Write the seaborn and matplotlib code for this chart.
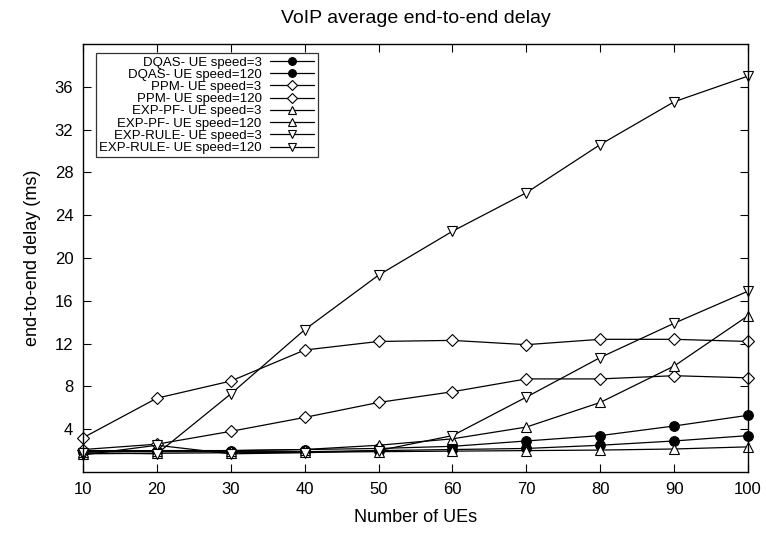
import matplotlib
matplotlib.use("Agg")
import matplotlib.pyplot as plt
import seaborn as sns

sns.set_theme(style="ticks")
plt.rcParams["font.family"] = ["Liberation Sans", "DejaVu Sans"]
plt.rcParams["text.color"] = "black"
plt.rcParams["axes.labelcolor"] = "black"
plt.rcParams["xtick.color"] = "black"
plt.rcParams["ytick.color"] = "black"

# numero di UE sull'asse x
ues = [10, 20, 30, 40, 50, 60, 70, 80, 90, 100]

# ritardi (ms)
dqas_3 = [1.9, 1.9, 1.9, 1.9, 2.0, 2.1, 2.2, 2.5, 2.9, 3.4]
dqas_120 = [2.0, 2.0, 2.0, 2.1, 2.2, 2.4, 2.9, 3.4, 4.3, 5.3]
ppm_3 = [2.1, 2.6, 3.8, 5.1, 6.5, 7.5, 8.7, 8.7, 9.0, 8.8]
ppm_120 = [3.2, 6.9, 8.5, 11.4, 12.2, 12.3, 11.9, 12.4, 12.4, 12.2]
exppf_3 = [1.7, 1.75, 1.8, 1.85, 1.9, 1.95, 2.0, 2.05, 2.15, 2.35]
exppf_120 = [1.9, 2.0, 2.0, 2.1, 2.5, 3.1, 4.2, 6.5, 9.9, 14.6]
exprule_3 = [1.6, 2.5, 1.7, 1.8, 2.0, 3.4, 7.0, 10.7, 13.9, 16.9]
exprule_120 = [1.8, 1.7, 7.3, 13.3, 18.4, 22.5, 26.1, 30.6, 34.6, 37.0]

labels = [
    "DQAS- UE speed=3",
    "DQAS- UE speed=120",
    "PPM- UE speed=3",
    "PPM- UE speed=120",
    "EXP-PF- UE speed=3",
    "EXP-PF- UE speed=120",
    "EXP-RULE- UE speed=3",
    "EXP-RULE- UE speed=120",
]
serie = [dqas_3, dqas_120, ppm_3, ppm_120, exppf_3, exppf_120, exprule_3, exprule_120]
marker = ["o", "o", "D", "D", "^", "^", "v", "v"]
riempito = [True, True, False, False, False, False, False, False]
dimensione = [7, 7, 6, 6, 7, 7, 7, 7]

fig = plt.figure(figsize=(7.66, 5.34), dpi=100)
ax = fig.add_axes([0.1084, 0.1161, 0.8681, 0.8015])

for lab, y, m, pieno, ms in zip(labels, serie, marker, riempito, dimensione):
    sns.lineplot(
        x=ues,
        y=y,
        ax=ax,
        color="black",
        linewidth=0.9,
        marker=m,
        markersize=ms,
        markerfacecolor="black" if pieno else "white",
        markeredgecolor="black",
        markeredgewidth=0.8,
        label=lab,
        clip_on=False,
    )

ax.set_xlim(10, 100)
ax.set_ylim(0, 40)
ax.set_xticks(ues)
ax.set_yticks([4, 8, 12, 16, 20, 24, 28, 32, 36])
ax.tick_params(direction="in", top=True, right=True, length=6, width=0.8,
               labelsize=12, pad=7)
for s in ax.spines.values():
    s.set_linewidth(1.0)
    s.set_color("black")

ax.set_title("VoIP average end-to-end delay", fontsize=14, pad=15)
ax.set_xlabel("Number of UEs", fontsize=13, labelpad=9)
ax.set_ylabel("end-to-end delay (ms)", fontsize=13, labelpad=10)

leg = ax.legend(
    loc="upper left",
    bbox_to_anchor=(0.019, 0.979),
    markerfirst=False,
    fontsize=9.5,
    frameon=True,
    fancybox=False,
    edgecolor="black",
    handlelength=3.4,
    handletextpad=0.6,
    labelspacing=0.0,
    borderpad=0.25,
    borderaxespad=0,
    markerscale=0.8,
)
leg.get_frame().set_linewidth(0.9)
# testo allineato a destra come in gnuplot
for col in leg._legend_handle_box.get_children():
    col.align = "right"

fig.savefig("out.png", dpi=100)
